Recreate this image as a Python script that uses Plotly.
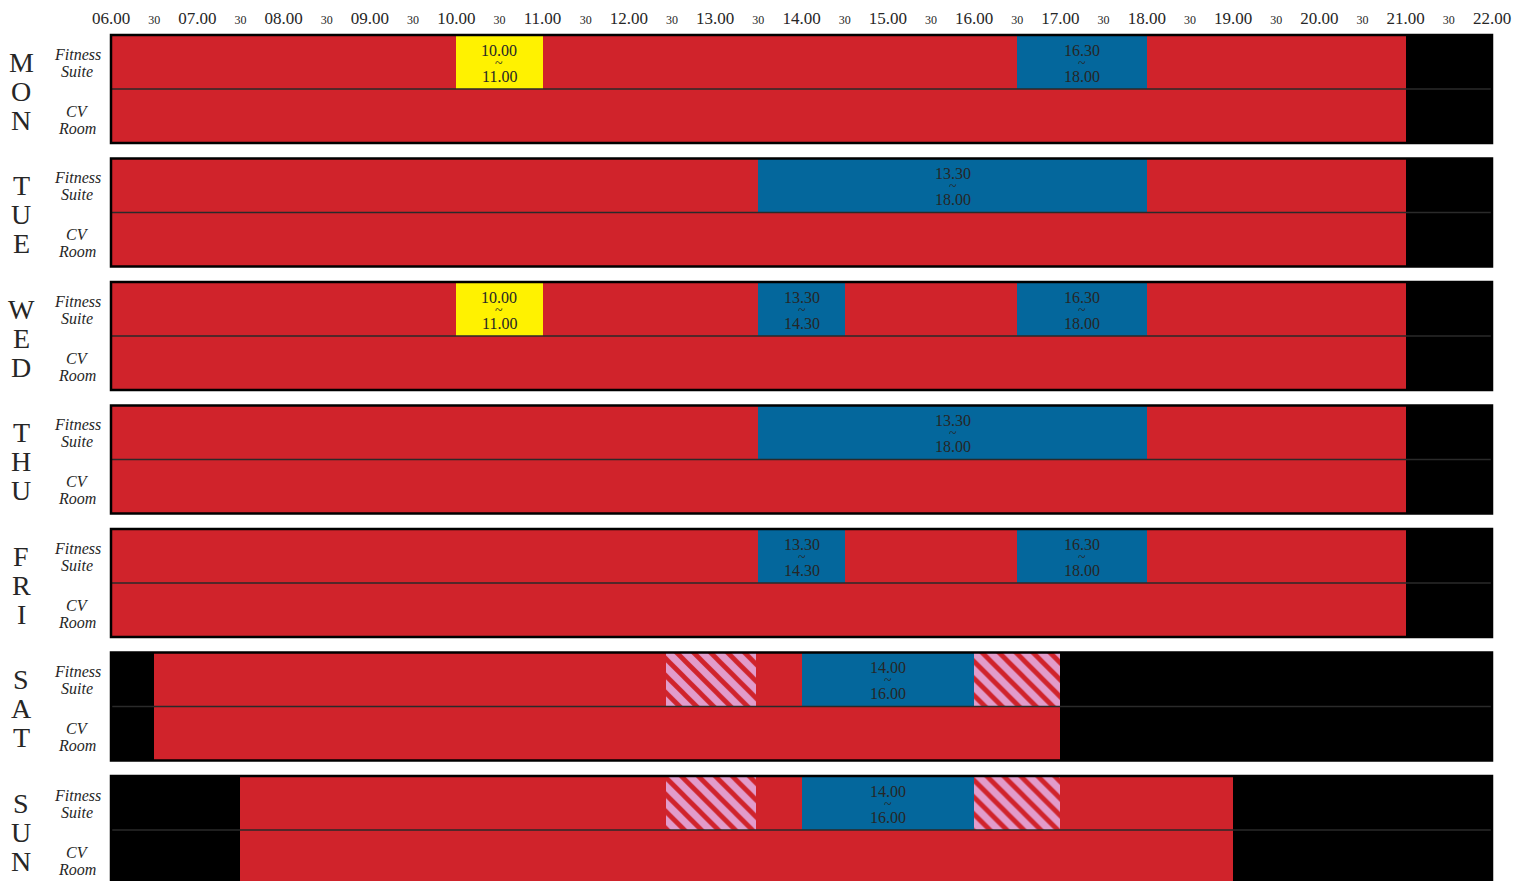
import plotly.graph_objects as go

# ---- schedule data -------------------------------------------------------
days = ["MON", "TUE", "WED", "THU", "FRI", "SAT", "SUN"]
rooms = [("Fitness", "Suite"), ("CV", "Room")]

# opening hours per day (decimal hours)
open_start = [6.0, 6.0, 6.0, 6.0, 6.0, 6.5, 7.5]
open_end = [21.0, 21.0, 21.0, 21.0, 21.0, 17.0, 19.0]

# Fitness Suite sessions
session_day = ["MON", "MON", "TUE", "WED", "WED", "WED", "THU", "FRI", "FRI", "SAT", "SUN"]
session_start = [10.0, 16.5, 13.5, 10.0, 13.5, 16.5, 13.5, 13.5, 16.5, 14.0, 14.0]
session_end = [11.0, 18.0, 18.0, 11.0, 14.5, 18.0, 18.0, 14.5, 18.0, 16.0, 16.0]
session_kind = ["special", "class", "class", "special", "class", "class",
                "class", "class", "class", "class", "class"]

# Fitness Suite part-time slots (hatched)
partial_day = ["SAT", "SAT", "SUN", "SUN"]
partial_start = [12.43, 16.0, 12.43, 16.0]
partial_end = [13.47, 17.0, 13.47, 17.0]

# axis ticks: every half hour from 06.00 to 22.00
tick_hours = [6 + 0.5 * k for k in range(33)]

# ---- styling / layout ----------------------------------------------------
RED = "#d0232b"
BLUE = "#04679c"
YELLOW = "#fff200"
PINK = "#e29ccb"
CLOSED = "#000000"
TEXT = "#262626"
FONT = "Liberation Serif"
KIND_COLOR = {"special": YELLOW, "class": BLUE}

W, H = 1513, 881
PX_PER_HOUR = 1381 / 16.0
ML, MR, MT = 107, 17, 32
x_lo = 6 - (111 - ML) / PX_PER_HOUR
x_hi = 22 + ((W - MR) - 1492) / PX_PER_HOUR

ROW_H = 54          # height of one room row (px)
BLOCK_STEP = 123.5  # distance between day blocks (px)
Y_TOP = -(35 - MT)  # y value at top of plot area
Y_BOTTOM = H - 35   # y value at bottom of plot area


def block_top(day):
    return days.index(day) * BLOCK_STEP


def row_center(day, r):
    return block_top(day) + ROW_H / 2 + r * ROW_H


def fmt(h):
    hh = int(h)
    mm = int(round((h - hh) * 60))
    return f"{hh:02d}.{mm:02d}"


fig = go.Figure()

# closed background for each row
bg_y, bg_base, bg_len = [], [], []
for d in days:
    for r in range(len(rooms)):
        bg_y.append(row_center(d, r))
        bg_base.append(6.0)
        bg_len.append(16.0)
fig.add_trace(go.Bar(orientation="h", y=bg_y, base=bg_base, x=bg_len, width=ROW_H,
                     marker=dict(color=CLOSED, line=dict(width=0)),
                     hoverinfo="skip", showlegend=False))

# opening hours
op_y, op_base, op_len = [], [], []
for d, s, e in zip(days, open_start, open_end):
    for r in range(len(rooms)):
        op_y.append(row_center(d, r))
        op_base.append(s)
        op_len.append(e - s)
fig.add_trace(go.Bar(orientation="h", y=op_y, base=op_base, x=op_len, width=ROW_H,
                     marker=dict(color=RED, line=dict(width=0)),
                     hoverinfo="skip", showlegend=False))

# hatched part-time slots
fig.add_trace(go.Bar(orientation="h",
                     y=[row_center(d, 0) for d in partial_day],
                     base=partial_start,
                     x=[e - s for s, e in zip(partial_start, partial_end)],
                     width=ROW_H,
                     marker=dict(color=PINK, line=dict(width=0),
                                 pattern=dict(shape="\\", fgcolor=RED, bgcolor=PINK,
                                              fgopacity=1, size=12, solidity=0.4)),
                     hoverinfo="skip", showlegend=False))

# sessions
fig.add_trace(go.Bar(orientation="h",
                     y=[row_center(d, 0) for d in session_day],
                     base=session_start,
                     x=[e - s for s, e in zip(session_start, session_end)],
                     width=ROW_H,
                     marker=dict(color=[KIND_COLOR[k] for k in session_kind], line=dict(width=0)),
                     hoverinfo="skip", showlegend=False))

shapes = []
annotations = []

for d in days:
    top = block_top(d)
    # divider between the two rooms
    shapes.append(dict(type="line", xref="x", yref="y", x0=6, x1=22,
                       y0=top + ROW_H, y1=top + ROW_H, layer="above",
                       line=dict(color="#2a2a2a", width=1.5)))
    # block frame
    shapes.append(dict(type="rect", xref="x", yref="y", x0=6, x1=22,
                       y0=top, y1=top + 2 * ROW_H, layer="above",
                       line=dict(color="#000000", width=2.5)))
    # day letters stacked vertically
    mid = top + ROW_H
    for k, ch in enumerate(d):
        annotations.append(dict(x=6, xref="x", xshift=-90, y=mid + 2 + (k - 1) * 29, yref="y",
                                text=ch, showarrow=False, xanchor="center", yanchor="middle",
                                font=dict(family=FONT, size=28, color=TEXT)))
    # room labels
    for r, (l1, l2) in enumerate(rooms):
        c = row_center(d, r) + (0.5 if r == 0 else 3.5)
        for dy, t in ((-8.5, l1), (8.5, l2)):
            annotations.append(dict(x=6, xref="x", xshift=-34, y=c + dy, yref="y",
                                    text=f"<i>{t}</i>", showarrow=False,
                                    xanchor="center", yanchor="middle",
                                    font=dict(family=FONT, size=16, color=TEXT)))

# session time labels
for d, s, e in zip(session_day, session_start, session_end):
    xc = (s + e) / 2
    c = row_center(d, 0)
    for dy, t, sz in ((-12, fmt(s), 16), (1, "~", 14), (14, fmt(e), 16)):
        annotations.append(dict(x=xc, xref="x", y=c + dy, yref="y", text=t,
                                showarrow=False, xanchor="center", yanchor="middle",
                                font=dict(family=FONT, size=sz, color=TEXT)))

tick_text = [fmt(h) if h == int(h) else "<span style='font-size:12px'>30</span>"
             for h in tick_hours]

fig.update_layout(
    width=W, height=H,
    margin=dict(l=ML, r=MR, t=MT, b=0, pad=0),
    paper_bgcolor="#ffffff", plot_bgcolor="#ffffff",
    barmode="overlay", bargap=0,
    shapes=shapes, annotations=annotations,
    xaxis=dict(range=[x_lo, x_hi], side="top", tickvals=tick_hours, ticktext=tick_text,
               showgrid=False, zeroline=False, showline=False, ticks="",
               ticklabelstandoff=4,
               tickfont=dict(family=FONT, size=17, color=TEXT), fixedrange=True),
    yaxis=dict(range=[Y_BOTTOM, Y_TOP], visible=False, showgrid=False,
               zeroline=False, fixedrange=True),
)

fig.write_html("out.html", config={"displayModeBar": False})
